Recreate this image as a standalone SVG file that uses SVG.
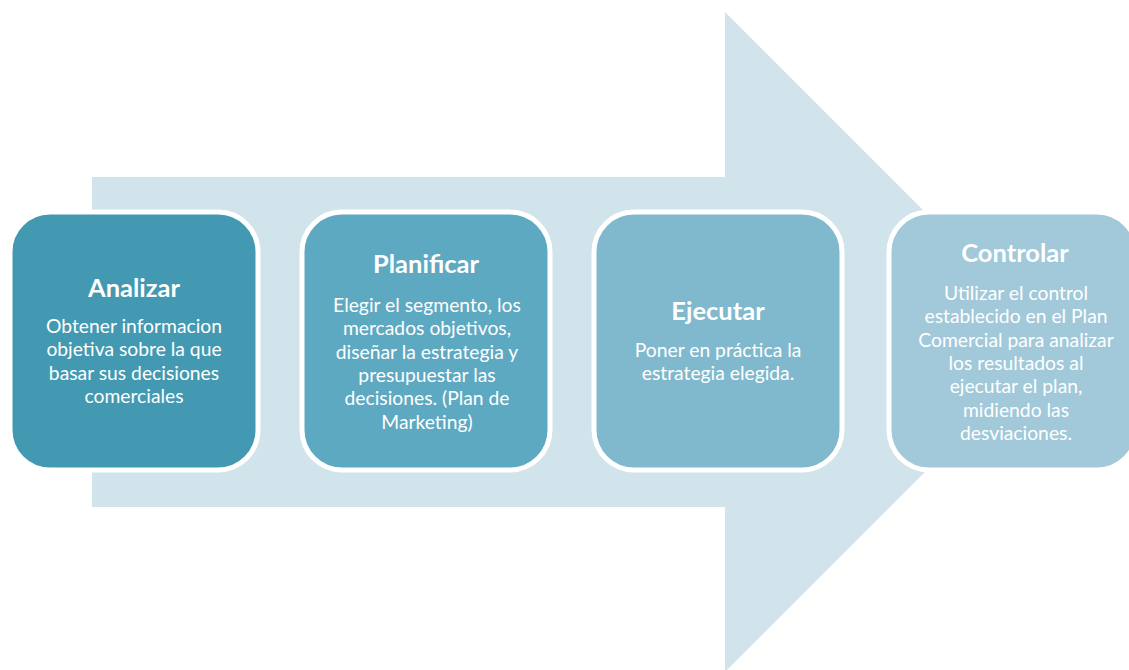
<svg xmlns="http://www.w3.org/2000/svg" width="1129" height="670" viewBox="0 0 1129 670">
<style>
.box{stroke:#ffffff;stroke-width:5}
.t{font-family:Lato,"Open Sans","Liberation Sans",sans-serif;fill:#ffffff;text-anchor:middle}
.h{font-size:25.5px;font-weight:bold}
.b{font-size:19.3px}
</style>
<rect width="1129" height="670" fill="#ffffff"/>
<g id="connectors">
<path d="M92,177 H725 V12 L1055,342 L725,672 V507 H92 Z" fill="#D1E3EB"/>
</g>
<g id="analizar">
<rect class="box" x="10" y="212" width="248" height="258" rx="40" fill="#4399B1"/>
<text class="t h" x="134" y="297">Analizar</text>
<text class="t b"><tspan x="134" y="333">Obtener informacion</tspan><tspan x="134" y="356.3">objetiva sobre la que</tspan><tspan x="134" y="379.6">basar sus decisiones</tspan><tspan x="134" y="402.9">comerciales</tspan></text>
</g>
<g id="planificar">
<rect class="box" x="302" y="212" width="248" height="258" rx="40" fill="#5EA9C2"/>
<text class="t h" x="426" y="273">Planificar</text>
<text class="t b"><tspan x="427" y="312">Elegir el segmento, los</tspan><tspan x="427" y="335.3">mercados objetivos,</tspan><tspan x="427" y="358.6">diseñar la estrategia y</tspan><tspan x="427" y="381.9">presupuestar las</tspan><tspan x="427" y="405.2">decisiones. (Plan de</tspan><tspan x="427" y="428.5">Marketing)</tspan></text>
</g>
<g id="ejecutar">
<rect class="box" x="594" y="212" width="248" height="258" rx="40" fill="#80B9CD"/>
<text class="t h" x="718" y="320">Ejecutar</text>
<text class="t b"><tspan x="718" y="357">Poner en práctica la</tspan><tspan x="718" y="380.3">estrategia elegida.</tspan></text>
</g>
<g id="controlar">
<rect class="box" x="889" y="212" width="248" height="258" rx="40" fill="#A1C9D9"/>
<text class="t h" x="1015" y="262">Controlar</text>
<text class="t b"><tspan x="1016" y="300">Utilizar el control</tspan><tspan x="1016" y="323.3">establecido en el Plan</tspan><tspan x="1016" y="346.6">Comercial para analizar</tspan><tspan x="1016" y="369.9">los resultados al</tspan><tspan x="1016" y="393.2">ejecutar el plan,</tspan><tspan x="1016" y="416.5">midiendo las</tspan><tspan x="1016" y="439.8">desviaciones.</tspan></text>
</g>
</svg>
